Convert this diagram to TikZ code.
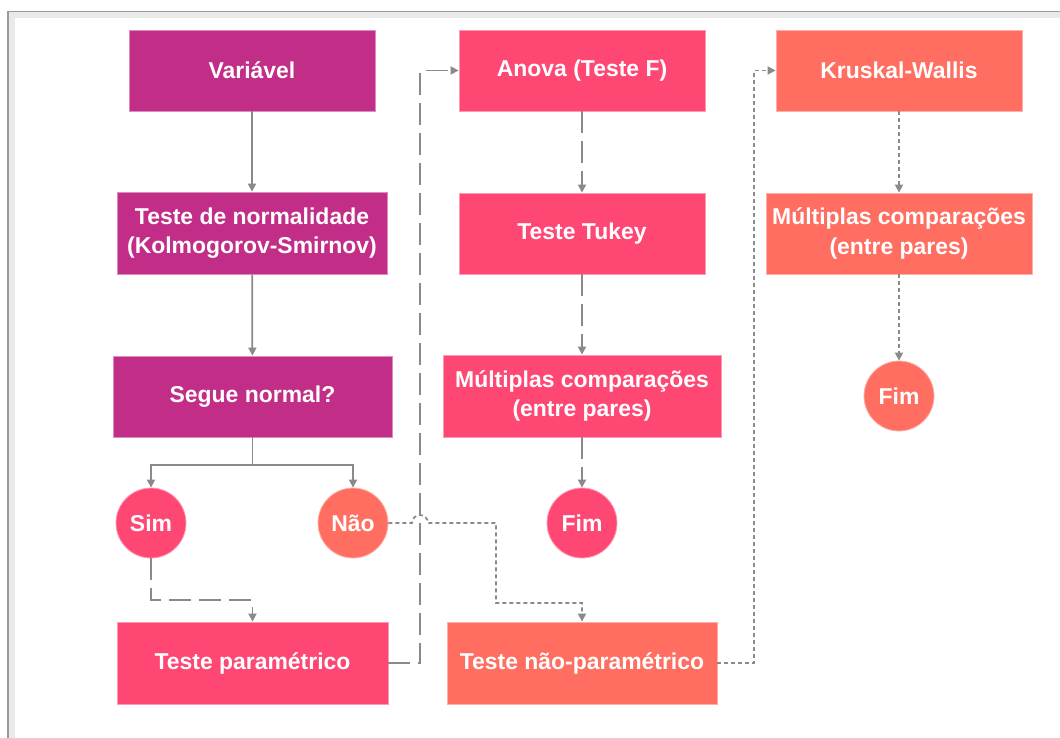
\documentclass[tikz,border=0pt]{standalone}
\usepackage{fontspec}
\setmainfont{Liberation Sans}
\usetikzlibrary{arrows.meta}
\definecolor{cMag}{HTML}{C22E87}
\definecolor{cPink}{HTML}{FF4774}
\definecolor{cCoral}{HTML}{FF6E61}
\definecolor{cLine}{HTML}{8A8A8A}
\definecolor{cBand}{HTML}{EAEAEA}
\definecolor{cFrame}{HTML}{9A9A9A}
\begin{document}
\begin{tikzpicture}[x=0.75pt,y=-0.75pt,
  txt/.style={text=white,font=\fontsize{17.2pt}{22pt}\selectfont\bfseries,align=center,inner sep=0pt},
  box/.style={txt,rectangle,fill=#1,draw=#1!55!white,line width=0.6pt},
  endc/.style={txt,circle,fill=#1,draw=#1!55!white,line width=0.6pt,minimum size=52.5pt},
  conn/.style={draw=cLine,line width=1.3pt,-{Triangle[length=6pt,width=6pt]}},
  solidc/.style={conn},
  longdash/.style={conn,dash pattern=on 16.5pt off 6pt},
  shortdash/.style={conn,dash pattern=on 3pt off 2.25pt}]
\useasboundingbox (0,0) rectangle (1060,738);
% panel frame
\fill[cBand] (8,11.5) rectangle (1060,738);
\fill[white] (15,18) rectangle (1060,738);
\draw[cFrame,line width=1.2pt] (8,738) -- (8,11.5) -- (1060,11.5);

% left column
\node[box=cMag,minimum width=184.5pt,minimum height=60.75pt] (var) at (252,70.5) {Variável};
\node[box=cMag,minimum width=202.5pt,minimum height=61.5pt] (norm) at (252,233) {Teste de normalidade\\(Kolmogorov-Smirnov)};
\node[box=cMag,minimum width=209.25pt,minimum height=60.75pt] (seg) at (252.5,396.5) {Segue normal?};
\node[endc=cPink] (sim) at (151,523) {Sim};
\node[endc=cCoral] (nao) at (353,523) {Não};
\node[box=cPink,minimum width=203.25pt,minimum height=61.5pt] (par) at (252.5,663) {Teste paramétrico};

% middle column
\node[box=cPink,minimum width=184.5pt,minimum height=60.75pt] (anova) at (582,70.5) {Anova (Teste F)};
\node[box=cPink,minimum width=184.5pt,minimum height=60.75pt] (tukey) at (582,233.5) {Teste Tukey};
\node[box=cPink,minimum width=208.5pt,minimum height=61.5pt] (mca) at (582,396) {Múltiplas comparações\\(entre pares)};
\node[endc=cPink] (fima) at (582,523) {Fim};
\node[box=cCoral,minimum width=202.5pt,minimum height=61.5pt] (npar) at (582,663) {Teste não-paramétrico};

% right column
\node[box=cCoral,minimum width=184.5pt,minimum height=60.75pt] (kw) at (899,70.5) {Kruskal-Wallis};
\node[box=cCoral,minimum width=199.5pt,minimum height=60.75pt] (mcb) at (899,233.5) {Múltiplas comparações\\(entre pares)};
\node[endc=cCoral] (fimb) at (899,396) {Fim};

% connectors
\draw[solidc] (var) -- (norm);
\draw[solidc] (norm) -- (seg);
\coordinate (split) at (252.5,465);
\draw[draw=cLine,line width=1.3pt] (seg.south) -- (split);
\draw[solidc] (split) -| (sim.north);
\draw[solidc] (split) -| (nao.north);

\coordinate (simturn) at (151,600);
\draw[longdash] (sim.south) -- (simturn) -| (par.north);

\coordinate (parturn) at (420,663);
\draw[longdash] (par.east) -- (parturn) |- (anova.west);
\draw[longdash] (anova) -- (tukey);
\draw[longdash] (tukey) -- (mca);
\draw[longdash] (mca) -- (fima);

\coordinate (hopstart) at (412,523);
\coordinate (naoturn) at (496,523);
\coordinate (naodown) at (496,603);
\draw[shortdash] (nao.east) -- (hopstart) arc[start angle=180,end angle=0,radius=6pt] -- (naoturn) -- (naodown) -| (npar.north);

\coordinate (npturn) at (754,663);
\draw[shortdash] (npar.east) -- (npturn) |- (kw.west);
\draw[shortdash] (kw) -- (mcb);
\draw[shortdash] (mcb) -- (fimb);
\end{tikzpicture}
\end{document}
